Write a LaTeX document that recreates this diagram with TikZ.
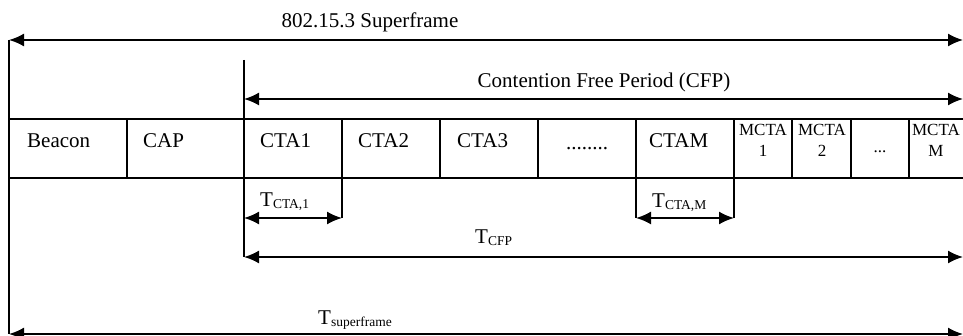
\documentclass[tikz,border=0pt]{standalone}
\usepackage{fontspec}
\setmainfont{Liberation Serif}
\usetikzlibrary{arrows.meta}
\newcommand\tsub[1]{\raisebox{-2pt}{\fontsize{13.5}{14}\selectfont #1}}
\tikzset{
  dimarrow/.style={line width=1.8pt, {Latex[length=15pt,width=13pt]}-{Latex[length=15pt,width=13pt]}},
  guide/.style={line width=1.1pt},
  cellline/.style={line width=1.1pt},
  lbl/.style={font=\fontsize{21}{24}\selectfont, inner sep=0pt, anchor=base west},
  clbl/.style={font=\fontsize{21}{24}\selectfont, inner sep=0pt, anchor=base},
  slbl/.style={font=\fontsize{17}{20}\selectfont, inner sep=0pt, anchor=base},
}
\begin{document}
\begin{tikzpicture}[x=1pt,y=-1pt]
\useasboundingbox (0,0) rectangle (963,336);
% named points
\coordinate (sfL) at (9,40);
\coordinate (sfR) at (963,40);
\coordinate (sfBL) at (9,334);
\coordinate (sfBR) at (963,334);
\coordinate (cfpTop) at (244,60);
\coordinate (cfpL) at (244,99);
\coordinate (cfpR) at (963,99);
\coordinate (tcfpL) at (244,257);
\coordinate (tcfpR) at (963,257);
\coordinate (c1L) at (244,218);
\coordinate (c1R) at (342,218);
\coordinate (cmL) at (636,218);
\coordinate (cmR) at (734,218);
% row of slots
\draw[cellline] (9,119) -- (963,119);
\draw[cellline] (9,178) -- (963,178);
\foreach \x in {127,440,538,792,851,909}
  \draw[cellline] (\x,119) -- (\x,178);
% guide lines
\draw[guide] (sfL) -- (sfBL);
\draw[guide] (cfpTop) -- (tcfpL);
\draw[guide] (342,119) -- (c1R);
\draw[guide] (636,119) -- (cmL);
\draw[guide] (734,119) -- (cmR);
% dimension arrows
\draw[dimarrow] (sfL) -- (sfR);
\draw[dimarrow] (cfpL) -- (cfpR);
\draw[dimarrow] (c1L) -- (c1R);
\draw[dimarrow] (cmL) -- (cmR);
\draw[dimarrow] (tcfpL) -- (tcfpR);
\draw[dimarrow] (sfBL) -- (sfBR);
% texts
\node[clbl] (title) at (370,28) {802.15.3 Superframe};
\node[clbl] (cfp) at (604,88) {Contention Free Period (CFP)};
\node[lbl] (beacon) at (27,148) {Beacon};
\node[lbl] (cap) at (143,148) {CAP};
\node[lbl] (cta1) at (260,148) {CTA1};
\node[lbl] (cta2) at (358,148) {CTA2};
\node[lbl] (cta3) at (457,148) {CTA3};
\node[clbl] (dots) at (587,150) {........};
\node[lbl] (ctam) at (649,148) {CTAM};
\node[slbl] (m1a) at (763,136) {MCTA};
\node[slbl] (m1b) at (763,157) {1};
\node[slbl] (m2a) at (822,136) {MCTA};
\node[slbl] (m2b) at (822,157) {2};
\node[slbl] (mdots) at (880,153) {...};
\node[slbl] (mma) at (936,136) {MCTA};
\node[slbl] (mmb) at (936,157) {M};
\node[lbl] (tc1) at (260,207) {T\tsub{CTA,1}};
\node[lbl] (tcm) at (652,208) {T\tsub{CTA,M}};
\node[lbl] (tcfp) at (475,244) {T\tsub{CFP}};
\node[lbl] (tsf) at (318,324) {T\tsub{superframe}};
\end{tikzpicture}
\end{document}
